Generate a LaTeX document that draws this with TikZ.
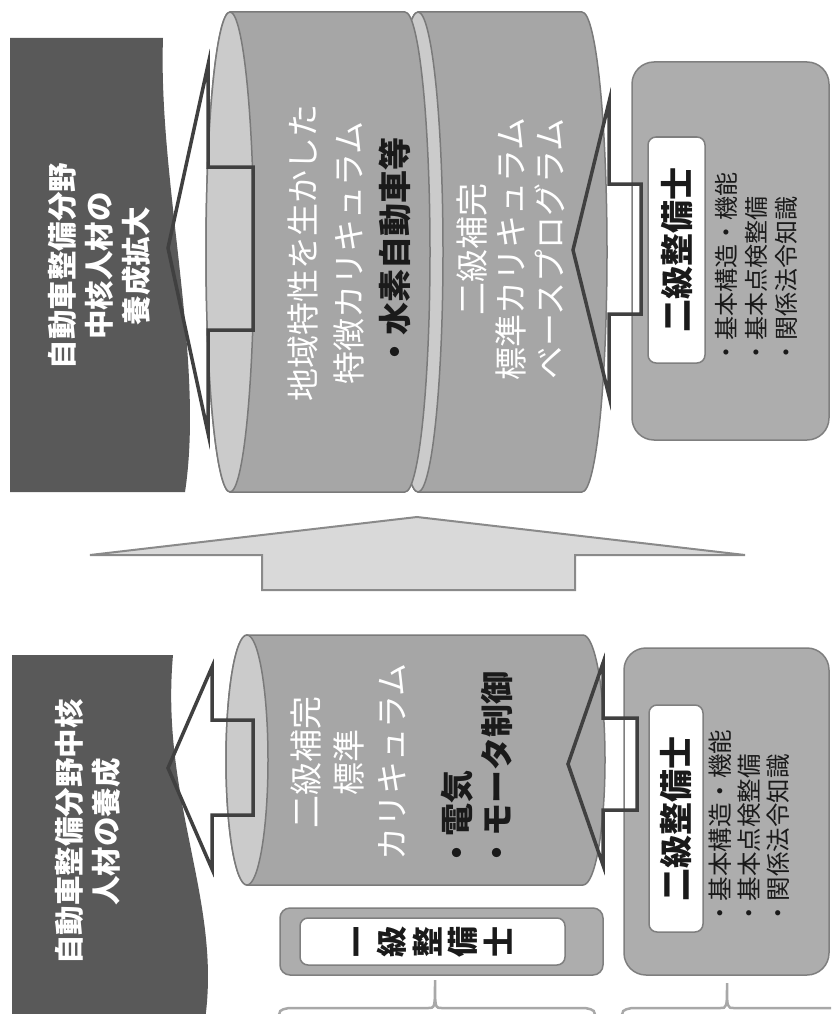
\documentclass[tikz,border=0pt]{standalone}
\usepackage{fontspec}
\newfontfamily\cjk{Noto Sans CJK JP}
\definecolor{darkg}{HTML}{595959}
\definecolor{cylbody}{HTML}{A6A6A6}
\definecolor{cylface}{HTML}{CBCBCB}
\definecolor{cylline}{HTML}{7A7A7A}
\definecolor{rboxfill}{HTML}{ADADAD}
\definecolor{rboxline}{HTML}{7F7F7F}
\definecolor{arrline}{HTML}{404040}
\definecolor{bigfill}{HTML}{D9D9D9}
\definecolor{bigline}{HTML}{8A8A8A}
\definecolor{bracecol}{HTML}{A8A8A8}
\definecolor{txtdark}{HTML}{1A1A1A}
\tikzset{
  darkshape/.style={fill=darkg},
  cylbodystyle/.style={fill=cylbody, draw=cylline, line width=1.5},
  cylfacestyle/.style={fill=cylface, draw=cylline, line width=1.5},
  rboxfillstyle/.style={fill=rboxfill, rounded corners=22},
  rboxlinestyle/.style={draw=rboxline, line width=1.5, rounded corners=22},
  smallrfill/.style={fill=rboxfill, draw=rboxline, line width=1.5, rounded corners=10},
  whitebox/.style={fill=white, draw=rboxline, line width=1.5, rounded corners=8},
  arrfill/.style={fill=white},
  arroutline/.style={draw=arrline, line width=3.5, line join=miter},
  bigarrow/.style={fill=bigfill, draw=bigline, line width=2},
  bracestyle/.style={draw=bracecol, line width=2.5},
  whitetxt/.style={text=white, inner sep=0pt, rotate=90, align=center},
  blacktxt/.style={text=txtdark, inner sep=0pt, rotate=90},
}
\begin{document}
\begin{tikzpicture}[x=1pt,y=-1pt]
\useasboundingbox (0,0) rectangle (831,1014);
\clip (0,0) rectangle (831,1014);
\fill[white] (0,0) rectangle (831,1014);

% rounded box fills (right side)
\fill[rboxfillstyle] (632,62) rectangle (829,440);
\fill[rboxfillstyle] (624,648) rectangle (829,975);

% white fills of the block arrows
\fill[arrfill] (168,248) -- (208,65) -- (208,167) -- (253,167) -- (253,330) -- (208,330) -- (208,433) -- cycle;
\fill[arrfill] (573,250) -- (609,102) -- (609,184) -- (641,184) -- (641,314) -- (609,314) -- (609,396) -- cycle;
\fill[arrfill] (168,768) -- (212,667) -- (212,720) -- (253,720) -- (253,815) -- (212,815) -- (212,869) -- cycle;
\fill[arrfill] (568,764) -- (603,663) -- (603,718) -- (637,718) -- (637,810) -- (603,810) -- (603,865) -- cycle;

% dark target boxes
\fill[darkshape] (10,38) -- (163,38) .. controls (158,180) and (205,360) .. (185,492) -- (10,492) -- cycle;
\fill[darkshape] (12,655) -- (173,655) .. controls (160,800) and (222,900) .. (205,1020) -- (205,1030) -- (12,1030) -- cycle;

% upper cylinders (right one first)
\filldraw[cylbodystyle] (418,12) -- (582,12) arc[start angle=-90,end angle=90,x radius=25,y radius=240] -- (418,492) arc[start angle=90,end angle=270,x radius=25,y radius=240] -- cycle;
\filldraw[cylfacestyle] (418,252) ellipse[x radius=25, y radius=240];
\filldraw[cylbodystyle] (230,12) -- (405,12) arc[start angle=-90,end angle=90,x radius=25,y radius=240] -- (230,492) arc[start angle=90,end angle=270,x radius=24,y radius=240] -- cycle;
\filldraw[cylfacestyle] (230,252) ellipse[x radius=24, y radius=240];

% lower cylinder
\filldraw[cylbodystyle] (247,635) -- (583,635) arc[start angle=-90,end angle=90,x radius=22,y radius=125] -- (247,885) arc[start angle=90,end angle=270,x radius=21,y radius=125] -- cycle;
\filldraw[cylfacestyle] (247,760) ellipse[x radius=21, y radius=125];

% rounded box outlines
\draw[rboxlinestyle] (632,62) rectangle (829,440);
\draw[rboxlinestyle] (624,648) rectangle (829,975);

% big up arrow
\filldraw[bigarrow] (262,590) -- (262,555) -- (90,555) -- (417,517) -- (745,555) -- (575,555) -- (575,590) -- cycle;

% block arrow outlines
\draw[arroutline] (168,248) -- (208,65) -- (208,167) -- (253,167) -- (253,330) -- (208,330) -- (208,433) -- cycle;
\draw[arroutline] (573,250) -- (609,102) -- (609,184) -- (641,184) -- (641,314) -- (609,314) -- (609,396) -- cycle;
\draw[arroutline] (168,768) -- (212,667) -- (212,720) -- (253,720) -- (253,815) -- (212,815) -- (212,869) -- cycle;
\draw[arroutline] (568,764) -- (603,663) -- (603,718) -- (637,718) -- (637,810) -- (603,810) -- (603,865) -- cycle;

% white label boxes
\draw[whitebox] (648,137) rectangle (705,363);
\draw[whitebox] (649,705) rectangle (703,932);
\draw[smallrfill] (280,908) rectangle (603,975);
\draw[whitebox] (300,918) rectangle (565,965);

% texts
\node[whitetxt, font=\cjk\bfseries\fontsize{29.5}{37}\selectfont] (goalup) at (99,266) {自動車整備分野\\中核人材の\\養成拡大};
\node[whitetxt, font=\cjk\bfseries\fontsize{29.5}{37}\selectfont] (goallow) at (88,832) {自動車整備分野中核\\人材の養成};

\node[whitetxt, font=\cjk\fontsize{33}{46}\selectfont] (cylA) at (349,253) {地域特性を生かした\\特徴カリキュラム\\\textcolor{txtdark}{\bfseries ・水素自動車等}};
\node[whitetxt, font=\cjk\fontsize{33}{39}\selectfont] (cylB) at (511,249) {二級補完\\標準カリキュラム\\ベースプログラム};
\node[whitetxt, font=\cjk\fontsize{33}{43}\selectfont] (cylC) at (348,762) {二級補完\\標準\\カリキュラム};
\node[blacktxt, font=\cjk\bfseries\fontsize{33}{40}\selectfont, align=left, anchor=west] (cylCb) at (477,870) {・電気\\・モータ制御};

\node[blacktxt, font=\cjk\bfseries\fontsize{33}{36}\selectfont] (nikyuA) at (677,250) {二級整備士};
\node[blacktxt, font=\cjk\bfseries\fontsize{33}{36}\selectfont] (nikyuB) at (676,819) {二級整備士};
\node[blacktxt, font=\cjk\fontsize{24}{30}\selectfont, align=left, anchor=west] (listA) at (756,365) {・基本構造・機能\\・基本点検整備\\・関係法令知識};
\node[blacktxt, font=\cjk\fontsize{24.5}{29}\selectfont, align=left, anchor=west] (listB) at (749,926) {・基本構造・機能\\・基本点検整備\\・関係法令知識};
\node[blacktxt, font=\cjk\bfseries\fontsize{31}{35.5}\selectfont, align=center] (ikkyu) at (433,942) {一\\級\\整\\備\\士};

% braces at the bottom edge
\draw[bracestyle] (279,1020) .. controls (279,1010) .. (289,1008) -- (428,1008) .. controls (435,1008) .. (435,980) .. controls (435,1008) .. (442,1008) -- (585,1008) .. controls (595,1010) .. (595,1020);
\draw[bracestyle] (622,1020) .. controls (622,1010) .. (632,1008) -- (720,1008) .. controls (727,1008) .. (727,983) .. controls (727,1008) .. (734,1008) -- (840,1008);
\end{tikzpicture}
\end{document}
